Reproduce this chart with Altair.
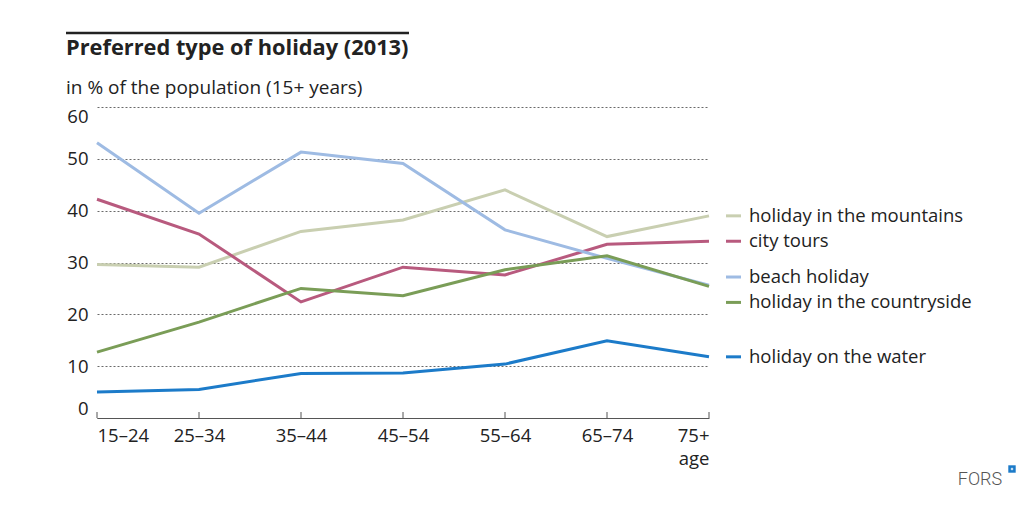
import altair as alt
import pandas as pd

ages = ["15–24", "25–34", "35–44", "45–54", "55–64", "65–74", "75+"]
series = ["holiday in the mountains", "city tours", "beach holiday",
          "holiday in the countryside", "holiday on the water"]
colors = ["#c9cfb1", "#b85a7e", "#9ebbe3", "#7a9d57", "#1c7bc9"]
mountains = [29.6, 29.1, 36.0, 38.2, 44.0, 35.0, 39.0]
city_tours = [42.2, 35.5, 22.4, 29.1, 27.6, 33.5, 34.1]
beach = [53.1, 39.5, 51.3, 49.1, 36.3, 30.8, 25.6]
countryside = [12.7, 18.5, 25.0, 23.6, 28.6, 31.3, 25.4]
water = [5.0, 5.5, 8.6, 8.7, 10.4, 14.9, 11.8]
label_level = [39.0, 34.1, 27.2, 22.3, 11.8]
y_ticks = [0, 10, 20, 30, 40, 50, 60]

title = "Preferred type of holiday (2013)"
subtitle = "in % of the population (15+ years)"
x_title = "age"
brand = "FORS"

FONT = "Open Sans"
TXT = "#222222"
W, H = 612, 311
FS = 18.5

values = [mountains, city_tours, beach, countryside, water]
rows = []
for s, vals in zip(series, values):
    for i, (a, v) in enumerate(zip(ages, vals)):
        rows.append({"series": s, "i": i, "age": a, "v": v})
df = pd.DataFrame(rows)
lab = pd.DataFrame({"series": series, "ly": label_level})
tick_df = pd.DataFrame({"i": list(range(len(ages)))})

label_expr = "[" + ",".join("'" + a + "'" for a in ages) + "][datum.value]"

color = alt.Color("series:N", scale=alt.Scale(domain=series, range=colors), legend=None)
yscale = alt.Scale(domain=[0, 60], nice=False)
xscale = alt.Scale(domain=[0, len(ages) - 1], nice=False)

lines = alt.Chart(df).mark_line(strokeWidth=3).encode(
    x=alt.X("i:Q", scale=xscale,
            axis=alt.Axis(values=list(range(len(ages))), labelExpr=label_expr,
                          title=x_title, titleAnchor="end", titleAlign="right",
                          titleFontWeight="normal", titleFontSize=FS, titleColor=TXT,
                          titlePadding=5, labelFontSize=FS, labelColor=TXT,
                          labelPadding=8, labelFlush=True, ticks=False, grid=False,
                          domainColor="#555555", domainWidth=1)),
    y=alt.Y("v:Q", scale=yscale,
            axis=alt.Axis(values=y_ticks, title=None, domain=False, ticks=False,
                          grid=True, gridDash=[2, 2], gridColor="#444444",
                          gridWidth=0.8, labelFontSize=FS, labelColor=TXT,
                          labelPadding=9, labelFlush=True)),
    color=color,
    order=alt.Order("i:Q"),
)

ticks = alt.Chart(tick_df).mark_rule(color="#555555", strokeWidth=1).encode(
    x=alt.X("i:Q", scale=xscale),
    y=alt.value(H),
    y2=alt.value(H - 6),
)

swatch = alt.Chart(lab).mark_rule(strokeWidth=3).encode(
    x=alt.value(W + 17), x2=alt.value(W + 32),
    y=alt.Y("ly:Q", scale=yscale),
    color=color,
)
swatch_text = alt.Chart(lab).mark_text(align="left", baseline="middle", fontSize=FS,
                                       color=TXT, font=FONT).encode(
    x=alt.value(W + 40),
    y=alt.Y("ly:Q", scale=yscale),
    text="series:N",
)

one = pd.DataFrame({"t": [title], "s": [subtitle], "b": [brand]})
title_rule = alt.Chart(one).mark_rule(color=TXT, strokeWidth=2.5).encode(
    x=alt.value(-31), x2=alt.value(312), y=alt.value(-74))
title_text = alt.Chart(one).mark_text(align="left", baseline="middle", fontSize=21.8,
                                      fontWeight="bold", color=TXT, font=FONT).encode(
    x=alt.value(-31), y=alt.value(-59), text="t:N")
sub_text = alt.Chart(one).mark_text(align="left", baseline="middle", fontSize=19,
                                    color=TXT, font=FONT).encode(
    x=alt.value(-31), y=alt.value(-19), text="s:N")
brand_text = alt.Chart(one).mark_text(align="center", baseline="middle", fontSize=18,
                                      fontWeight=300, color="#555555",
                                      font="Roboto").encode(
    x=alt.value(883), y=alt.value(373), text="b:N")
brand_box = alt.Chart(one).mark_point(shape="square", filled=True, size=55,
                                      color="#1c7bc9", opacity=1).encode(
    x=alt.value(915), y=alt.value(362))
brand_plus = alt.Chart(one).mark_point(shape="cross", filled=True, size=6,
                                       color="white", opacity=1).encode(
    x=alt.value(915), y=alt.value(362))

chart = alt.layer(
    lines, ticks, swatch, swatch_text, title_rule, title_text, sub_text,
    brand_text, brand_box, brand_plus
).properties(
    width=W, height=H,
    autosize=alt.AutoSizeParams(type="none"),
    padding={"left": 89, "top": 99, "right": 310, "bottom": 76},
    background="white",
).configure(font=FONT).configure_view(stroke=None)

chart.save("out.html", embed_options={"renderer": "svg", "actions": False})
